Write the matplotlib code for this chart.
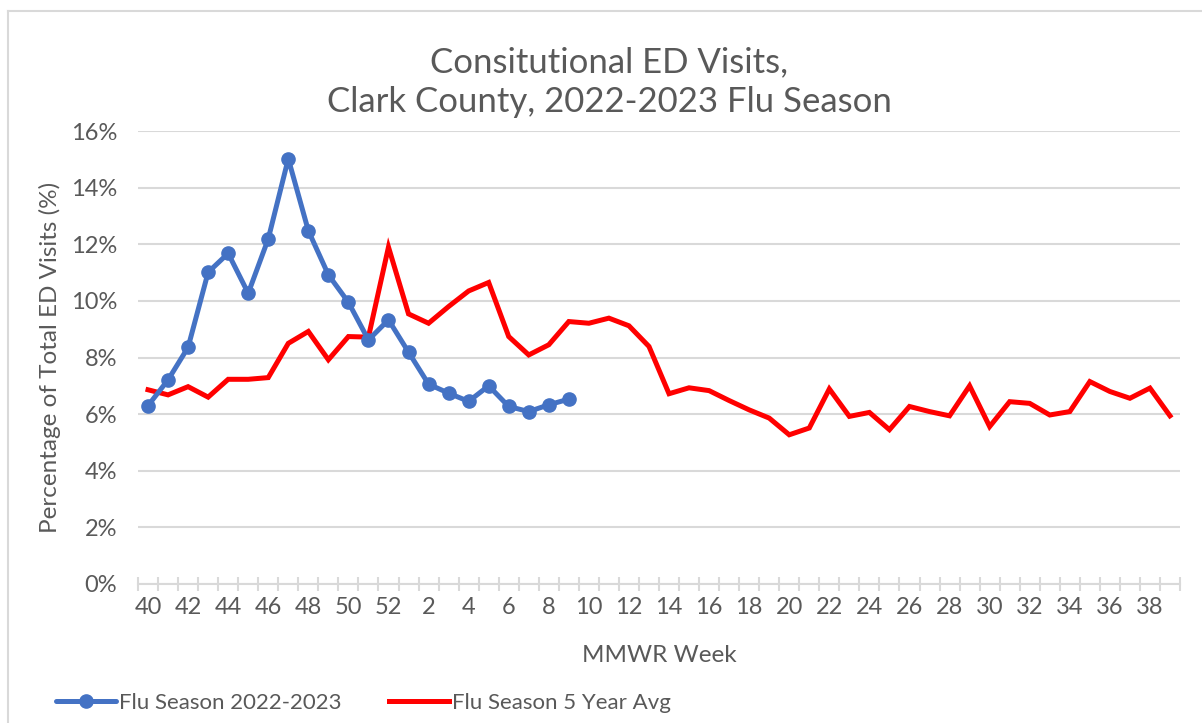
import matplotlib
matplotlib.use('Agg')
import matplotlib.pyplot as plt
from matplotlib.lines import Line2D
from matplotlib.ticker import FixedLocator, FuncFormatter

plt.rcParams['font.family'] = ['Lato', 'DejaVu Sans']

# MMWR weeks 40..52 then 1..39
week_labels = list(range(40, 53)) + list(range(1, 40))

season_2022_2023 = [6.30, 7.21, 8.36, 11.01, 11.68, 10.27, 12.19, 15.02, 12.48, 10.92,
                    9.95, 8.62, 9.33, 8.19, 7.06, 6.74, 6.45, 7.00, 6.27, 6.09,
                    6.33, 6.53]

season_5yr_avg = [6.86, 6.68, 6.97, 6.60, 7.23, 7.23, 7.29, 8.50, 8.92, 7.92,
                  8.74, 8.72, 11.90, 9.54, 9.21, 9.80, 10.35, 10.65, 8.74, 8.09,
                  8.45, 9.27, 9.21, 9.39, 9.12, 8.39, 6.72, 6.93, 6.83, 6.48,
                  6.15, 5.86, 5.27, 5.51, 6.89, 5.92, 6.06, 5.45, 6.27, 6.09,
                  5.94, 7.00, 5.56, 6.44, 6.38, 5.97, 6.09, 7.15, 6.80, 6.56,
                  6.92, 5.94]

text_color = '#595959'
grid_color = '#d9d9d9'

fig = plt.figure(figsize=(12.02, 7.23), dpi=100)
ax = fig.add_axes([138 / 1202, 1 - 584 / 723, (1180 - 138) / 1202, (584 - 131) / 723])

x_blue = list(range(len(season_2022_2023)))
x_red = list(range(len(season_5yr_avg)))

ax.plot(x_blue, season_2022_2023, color='#4472C4', lw=3.6, marker='o', ms=9.5,
        label='Flu Season 2022-2023', zorder=3, solid_capstyle='round')
ax.plot(x_red, season_5yr_avg, color='#FF0000', lw=3.6,
        label='Flu Season 5 Year Avg', zorder=2, solid_joinstyle='miter')

ax.set_xlim(-0.5, len(week_labels) - 0.5)
ax.set_ylim(0, 16)
ax.set_yticks(range(0, 17, 2))
ax.yaxis.set_major_formatter(FuncFormatter(lambda v, p: '%d%%' % v))
ax.grid(axis='y', color=grid_color, lw=1.5)
ax.set_axisbelow(True)

# labels on every other week, tick marks between categories
ax.set_xticks(range(0, len(week_labels), 2))
ax.set_xticklabels([str(week_labels[i]) for i in range(0, len(week_labels), 2)])
ax.xaxis.set_minor_locator(FixedLocator([i - 0.5 for i in range(len(week_labels) + 1)]))
ax.tick_params(axis='x', which='major', length=0, pad=9, labelsize=17, labelcolor=text_color)
ax.tick_params(axis='x', which='minor', direction='inout', length=10, width=1.5, color=grid_color)
ax.tick_params(axis='y', length=0, pad=15, labelsize=17, labelcolor=text_color)

for s in ['top', 'right', 'left']:
    ax.spines[s].set_visible(False)
ax.spines['bottom'].set_color(grid_color)
ax.spines['bottom'].set_linewidth(1.5)

ax.set_xlabel('MMWR Week', fontsize=17.5, color=text_color, labelpad=20)
ax.set_ylabel('Percentage of Total ED Visits (%)', fontsize=17.5, color=text_color, labelpad=7)

fig.text(0.507, 1 - 82 / 723, 'Consitutional ED Visits,\nClark County, 2022-2023 Flu Season',
         ha='center', va='center', fontsize=25, color=text_color, linespacing=1.27)

fig.legend(loc='center left', bbox_to_anchor=(56 / 1202, 1 - 703 / 723), ncol=2,
           frameon=False, fontsize=16, handlelength=2.7, handletextpad=0.15,
           columnspacing=2.1, borderpad=0, borderaxespad=0, labelcolor=text_color)

# chart border (left and top edges)
fig.add_artist(Line2D([8 / 1202, 8 / 1202], [0, 1 - 11 / 723], color=grid_color, lw=1.5))
fig.add_artist(Line2D([8 / 1202, 1], [1 - 11 / 723, 1 - 11 / 723], color=grid_color, lw=1.5))

fig.savefig('out.png', dpi=100)
